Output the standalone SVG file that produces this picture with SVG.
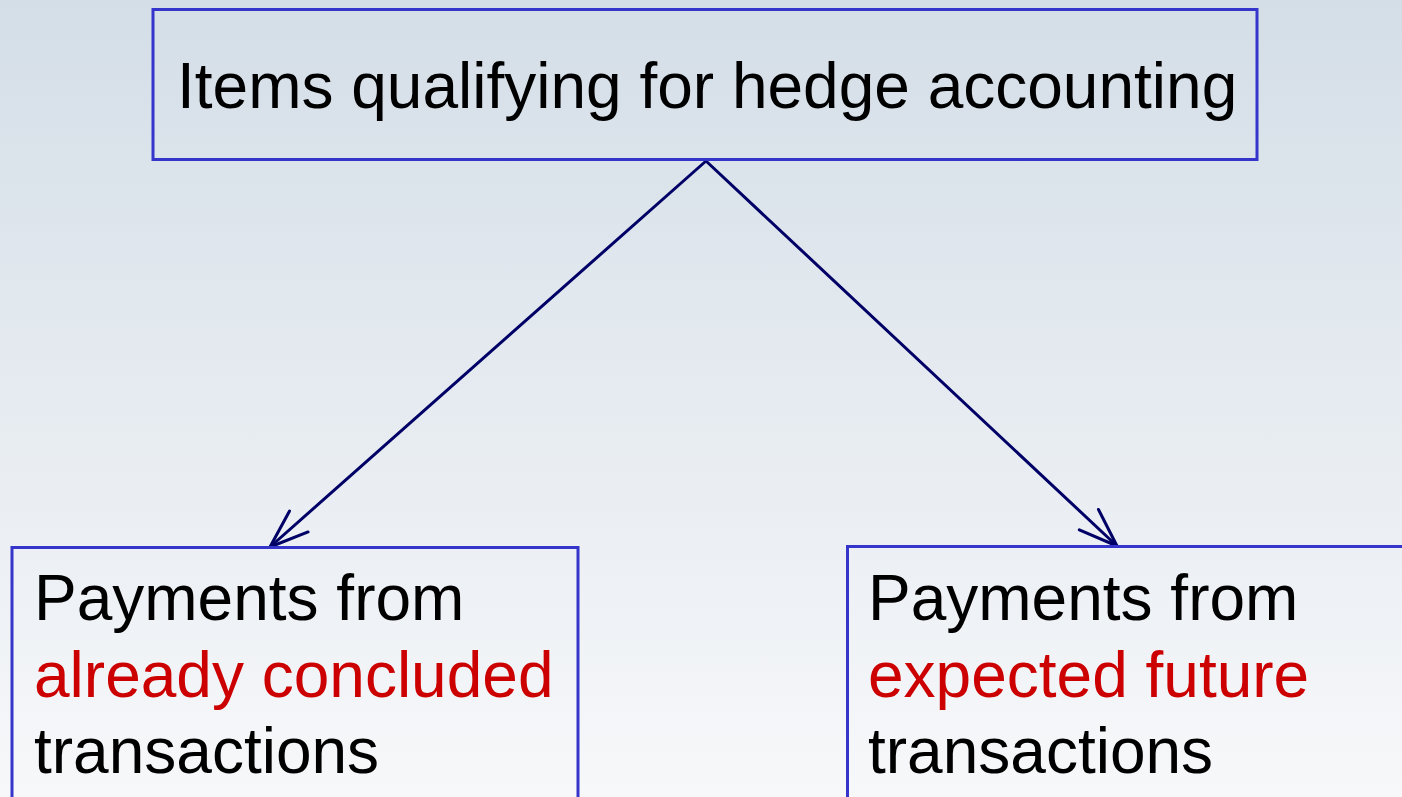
<svg xmlns="http://www.w3.org/2000/svg" width="1402" height="797" viewBox="0 0 1402 797">
  <defs>
    <linearGradient id="bg" x1="0" y1="0" x2="0" y2="1">
      <stop offset="0" stop-color="#d4dee7"/>
      <stop offset="1" stop-color="#f7f8fa"/>
    </linearGradient>
    <marker id="open" markerUnits="userSpaceOnUse" markerWidth="50" markerHeight="40" refX="0" refY="0" orient="auto" overflow="visible">
      <path d="M-38.5,-14 L0,0 L-38.5,14" fill="none" stroke="#000066" stroke-width="3" stroke-linecap="round" stroke-linejoin="round"/>
    </marker>
    <style>
      .box { fill: none; stroke: #3535cc; stroke-width: 3; }
      .txt { font-family: "Liberation Sans", Arial, sans-serif; font-size: 64px; fill: #000000; }
      .red { fill: #cc0000; }
      .conn { stroke: #000066; stroke-width: 3; fill: none; stroke-linecap: round; marker-end: url(#open); }
    </style>
  </defs>
  <rect x="0" y="0" width="1402" height="797" fill="url(#bg)"/>
  <g id="connectors">
    <line class="conn" x1="706" y1="161" x2="270" y2="547"/>
    <line class="conn" x1="706" y1="161" x2="1117" y2="546"/>
  </g>
  <g id="node-top">
    <rect class="box" x="153" y="9.5" width="1104" height="150"/>
    <text class="txt" x="177" y="108">Items qualifying for hedge accounting</text>
  </g>
  <g id="node-left">
    <rect class="box" x="12" y="547.5" width="566" height="280"/>
    <text class="txt" x="34" y="620">Payments from</text>
    <text class="txt red" x="34" y="697">already concluded</text>
    <text class="txt" x="34" y="773">transactions</text>
  </g>
  <g id="node-right">
    <rect class="box" x="847.5" y="546.5" width="580" height="280"/>
    <text class="txt" x="868" y="620">Payments from</text>
    <text class="txt red" x="868" y="697">expected future</text>
    <text class="txt" x="868" y="773">transactions</text>
  </g>
</svg>
